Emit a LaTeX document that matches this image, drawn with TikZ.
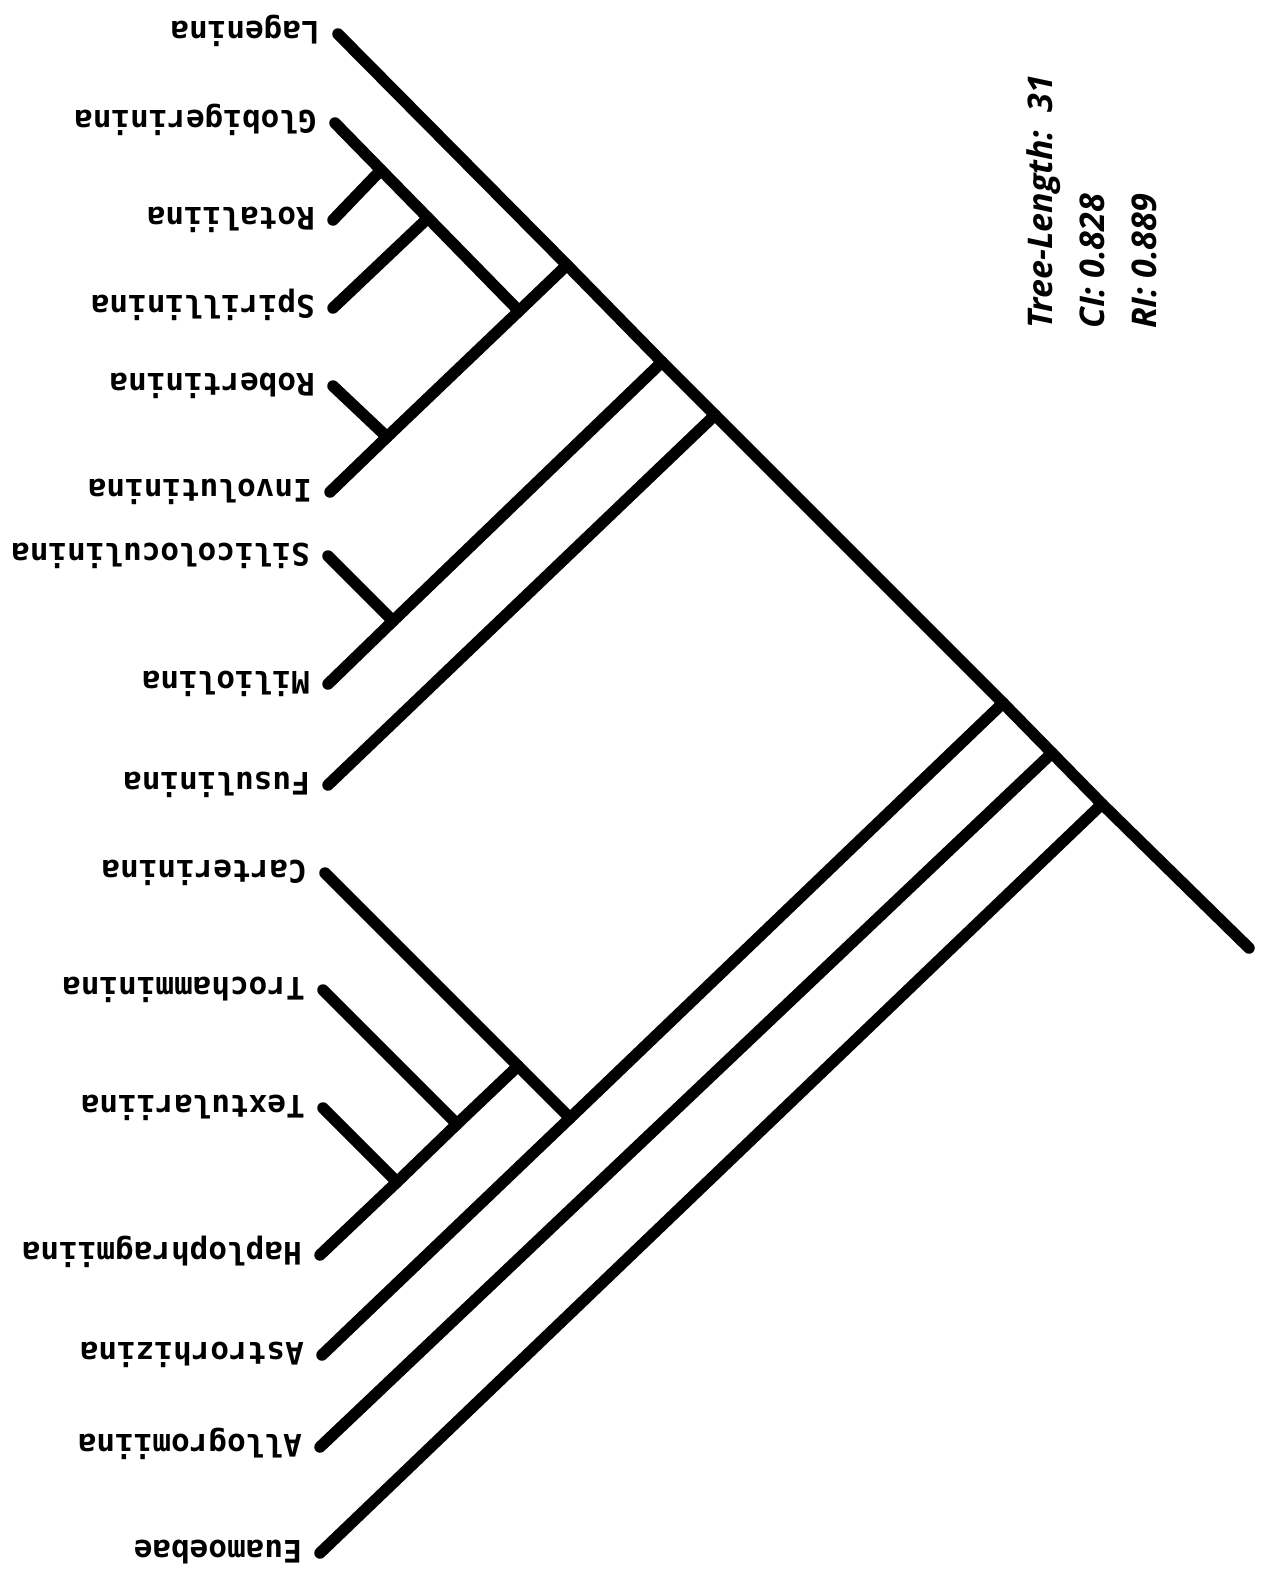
\documentclass[tikz,border=0pt]{standalone}
\usepackage{fontspec}
\usepackage{tikz}
\usetikzlibrary{calc}

\newfontfamily\taxonfont{DejaVu Sans Mono}
\newfontfamily\statfont{Open Sans}

\begin{document}
\begin{tikzpicture}[
    x=1pt, y=-1pt,
    branch/.style={line width=11.5pt, line cap=round, line join=round},
    taxon/.style={rotate=180, anchor=base west, inner sep=0pt,
        font=\taxonfont\bfseries\fontsize{31}{31}\selectfont},
    stats/.style={rotate=90, anchor=north west, inner sep=0pt, align=left,
        font=\statfont\bfseries\itshape\fontsize{34}{52}\selectfont}
    ]
    \useasboundingbox (0,0) rectangle (1266,1574);

    % Tips
    \coordinate (tLag) at (338,34);
    \coordinate (tGlo) at (335,123);
    \coordinate (tRot) at (333,220);
    \coordinate (tSpi) at (333,308);
    \coordinate (tRob) at (333,386);
    \coordinate (tInv) at (330,492);
    \coordinate (tSil) at (328,556);
    \coordinate (tMil) at (328,684);
    \coordinate (tFus) at (328,785);
    \coordinate (tCar) at (325,873);
    \coordinate (tTro) at (323,990);
    \coordinate (tTex) at (323,1108);
    \coordinate (tHap) at (320,1255);
    \coordinate (tAst) at (322,1355);
    \coordinate (tAll) at (320,1447);
    \coordinate (tEua) at (320,1553);

    % Junctions
    \coordinate (jInv) at (567,265);
    \coordinate (jMil) at (662,362);
    \coordinate (jFus) at (715,415);
    \coordinate (jAst) at (1003,703);
    \coordinate (jAll) at (1052,753);
    \coordinate (jEua) at (1102,804);
    \coordinate (root) at (1249,948);
    \coordinate (jRob) at (387,437);
    \coordinate (jGlo) at (519,311);
    \coordinate (jRot) at (381,170);
    \coordinate (jSpi) at (428,218);
    \coordinate (jSil) at (393,621);
    \coordinate (jCar) at (570,1118);
    \coordinate (jHap) at (518,1066);
    \coordinate (jTro) at (457,1124);
    \coordinate (jTex) at (397,1182);

    % Branches
    \draw[branch] (tLag) -- (jInv) -- (jMil) -- (jFus) -- (jAst) -- (jAll) -- (jEua) -- (root);

    \draw[branch] (tInv) -- (jRob) -- (jGlo) -- (jInv);
    \draw[branch] (tRob) -- (jRob);
    \draw[branch] (tGlo) -- (jRot) -- (jSpi) -- (jGlo);
    \draw[branch] (tRot) -- (jRot);
    \draw[branch] (tSpi) -- (jSpi);

    \draw[branch] (tMil) -- (jSil) -- (jMil);
    \draw[branch] (tSil) -- (jSil);
    \draw[branch] (tFus) -- (jFus);

    \draw[branch] (tAst) -- (jCar) -- (jAst);
    \draw[branch] (tCar) -- (jHap) -- (jCar);
    \draw[branch] (tHap) -- (jTex) -- (jTro) -- (jHap);
    \draw[branch] (tTro) -- (jTro);
    \draw[branch] (tTex) -- (jTex);

    \draw[branch] (tAll) -- (jAll);
    \draw[branch] (tEua) -- (jEua);

    % Taxon names
    \node[taxon] (lLag) at ($(tLag)+(-18,-12.5)$) {Lagenina};
    \node[taxon] (lGlo) at ($(tGlo)+(-18,-12.5)$) {Globigerinina};
    \node[taxon] (lRot) at ($(tRot)+(-18,-12.5)$) {Rotaliina};
    \node[taxon] (lSpi) at ($(tSpi)+(-18,-12.5)$) {Spirillinina};
    \node[taxon] (lRob) at ($(tRob)+(-18,-12.5)$) {Robertinina};
    \node[taxon] (lInv) at ($(tInv)+(-18,-12.5)$) {Involutinina};
    \node[taxon] (lSil) at ($(tSil)+(-18,-12.5)$) {Silicoloculinina};
    \node[taxon] (lMil) at ($(tMil)+(-18,-12.5)$) {Miliolina};
    \node[taxon] (lFus) at ($(tFus)+(-18,-12.5)$) {Fusulinina};
    \node[taxon] (lCar) at ($(tCar)+(-18,-12.5)$) {Carterinina};
    \node[taxon] (lTro) at ($(tTro)+(-18,-12.5)$) {Trochamminina};
    \node[taxon] (lTex) at ($(tTex)+(-18,-12.5)$) {Textulariina};
    \node[taxon] (lHap) at ($(tHap)+(-18,-12.5)$) {Haplophragmiina};
    \node[taxon] (lAst) at ($(tAst)+(-18,-12.5)$) {Astrorhizina};
    \node[taxon] (lAll) at ($(tAll)+(-18,-12.5)$) {Allogromiina};
    \node[taxon] (lEua) at ($(tEua)+(-18,-12.5)$) {Euamoebae};

    % Tree statistics
    \node[stats] (treestats) at (1026,329) {Tree-Length:\ \ 31\\CI: 0.828\\RI: 0.889};

\end{tikzpicture}
\end{document}
